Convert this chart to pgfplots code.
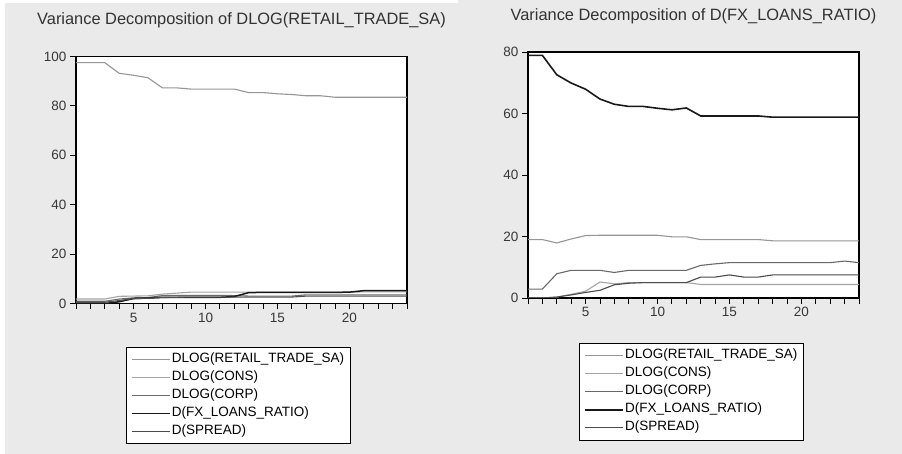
\documentclass[border=0pt]{standalone}
\usepackage{fontspec}
\setmainfont{Liberation Sans}
\usepackage{pgfplots}
\usepackage{pgfplotstable}
\pgfplotsset{compat=1.18}

\definecolor{bggray}{RGB}{234,234,234}
\definecolor{tickgray}{RGB}{55,55,55}
\definecolor{titlegray}{RGB}{50,50,50}
\definecolor{cRet}{RGB}{150,150,150}
\definecolor{cCons}{RGB}{165,165,165}
\definecolor{cCorp}{RGB}{105,105,105}
\definecolor{cFx}{RGB}{25,25,25}
\definecolor{cSpr}{RGB}{75,75,75}

\newcommand{\titlefont}{\fontsize{16.4}{19}\selectfont}
\newcommand{\ticksfont}{\fontsize{13.5}{16}\selectfont}
\newcommand{\legfont}{\fontsize{13.5}{16}\selectfont}

\pgfplotstableread{
x ret cons corp fx spr
1 97.5 1.8 0.9 0.0 0.5
2 97.5 1.8 0.9 0.0 0.5
3 97.5 1.8 0.9 0.0 0.5
4 93.2 2.9 1.8 0.7 1.2
5 92.4 3.0 2.3 2.0 2.0
6 91.4 3.1 2.4 2.2 2.1
7 87.3 3.8 3.2 2.5 2.4
8 87.3 4.2 3.3 2.5 2.5
9 86.8 4.6 3.3 2.5 2.6
10 86.8 4.6 3.3 2.5 2.6
11 86.8 4.6 3.3 2.5 2.6
12 86.8 4.6 3.2 2.8 2.6
13 85.4 4.6 3.0 4.4 2.6
14 85.4 4.6 3.0 4.5 2.6
15 84.9 4.6 3.0 4.5 2.6
16 84.6 4.6 3.0 4.5 2.6
17 84.1 4.6 3.5 4.5 3.0
18 84.1 4.6 3.5 4.5 3.0
19 83.5 4.6 3.5 4.5 3.0
20 83.5 4.6 3.5 4.6 3.0
21 83.5 4.7 3.5 5.2 3.0
22 83.5 4.7 3.5 5.2 3.0
23 83.5 4.7 3.5 5.2 3.0
24 83.5 4.7 3.5 5.2 3.0
}\leftdata

\pgfplotstableread{
x ret cons corp fx spr
1 19.0 0.0 2.9 78.9 0.0
2 19.0 0.0 2.9 78.9 0.0
3 17.9 0.3 7.9 72.6 0.3
4 19.2 1.2 9.0 69.9 1.0
5 20.3 2.2 9.0 67.9 1.8
6 20.4 5.2 9.0 64.7 2.5
7 20.4 4.6 8.3 63.0 4.3
8 20.4 5.0 9.0 62.3 4.8
9 20.4 5.0 9.0 62.3 5.0
10 20.4 5.0 9.0 61.7 5.0
11 19.9 5.0 9.0 61.2 5.0
12 19.9 5.0 9.0 61.8 5.0
13 19.0 4.4 10.6 59.2 6.8
14 19.0 4.4 11.1 59.2 6.8
15 19.0 4.4 11.5 59.2 7.5
16 19.0 4.4 11.5 59.2 6.8
17 19.0 4.4 11.5 59.2 6.8
18 18.6 4.4 11.5 58.8 7.5
19 18.6 4.4 11.5 58.8 7.5
20 18.6 4.4 11.5 58.8 7.5
21 18.6 4.4 11.5 58.8 7.5
22 18.6 4.4 11.5 58.8 7.5
23 18.6 4.4 12.0 58.8 7.5
24 18.6 4.4 11.5 58.8 7.5
}\rightdata

\pgfplotsset{vd/.style={
  scale only axis, width=331pt,
  xmin=1, xmax=24, ymin=0,
  axis line style={black, line width=1.2pt},
  axis background/.style={fill=white},
  tick pos=left, tick align=outside,
  xtick={5,10,15,20}, minor xtick={1,...,24},
  major tick length=6pt, minor tick length=6pt,
  every tick/.style={black, line width=0.9pt},
  minor tick style={black, line width=0.9pt},
  ticklabel style={font=\ticksfont, text=tickgray},
  /pgf/number format/assume math mode=true,
  title style={font=\titlefont, text=titlegray, at={(0.5,1)}, anchor=center, yshift=30pt},
  legend style={draw=black, line width=0.9pt, font=\legfont, anchor=north west,
    inner xsep=5pt, inner ysep=6pt, row sep=5.5pt, column sep=0pt,
    nodes={inner xsep=1pt, inner ysep=0pt, text height=9.5pt, text depth=3pt}},
  legend cell align=left,
  legend image code/.code={\draw[#1] (0pt,0pt) -- (38pt,0pt);},
  every axis plot/.append style={line width=1.1pt, mark=none},
}}

\begin{document}
\begin{tikzpicture}
\fill[bggray] (0,0) rectangle (902pt,454pt);
\fill[white] (0,0) rectangle (5pt,454pt);
\fill[white] (0,451pt) rectangle (458pt,454pt);

\begin{axis}[vd, at={(76pt,150.5pt)}, anchor=south west, height=247pt,
  ymax=100, ytick={0,20,40,60,80,100},
  title={Variance Decomposition of DLOG(RETAIL\_TRADE\_SA)},
  legend style={at={(0.151,-0.176)}}]
\addplot[cRet] table[x=x,y=ret] {\leftdata};
\addplot[cCons] table[x=x,y=cons] {\leftdata};
\addplot[cCorp] table[x=x,y=corp] {\leftdata};
\addplot[cFx, line width=1.5pt] table[x=x,y=fx] {\leftdata};
\addplot[cSpr] table[x=x,y=spr] {\leftdata};
\legend{DLOG(RETAIL\_TRADE\_SA), DLOG(CONS), DLOG(CORP), D(FX\_LOANS\_RATIO), D(SPREAD)}
\end{axis}

\begin{axis}[vd, at={(528pt,156pt)}, anchor=south west, height=246pt,
  ymax=80, ytick={0,20,40,60,80},
  title={Variance Decomposition of D(FX\_LOANS\_RATIO)},
  legend style={at={(0.154,-0.183)}}]
\addplot[cRet] table[x=x,y=ret] {\rightdata};
\addplot[cCons] table[x=x,y=cons] {\rightdata};
\addplot[cCorp] table[x=x,y=corp] {\rightdata};
\addplot[cFx, line width=1.6pt] table[x=x,y=fx] {\rightdata};
\addplot[cSpr] table[x=x,y=spr] {\rightdata};
\legend{DLOG(RETAIL\_TRADE\_SA), DLOG(CONS), DLOG(CORP), D(FX\_LOANS\_RATIO), D(SPREAD)}
\end{axis}
\end{tikzpicture}
\end{document}
